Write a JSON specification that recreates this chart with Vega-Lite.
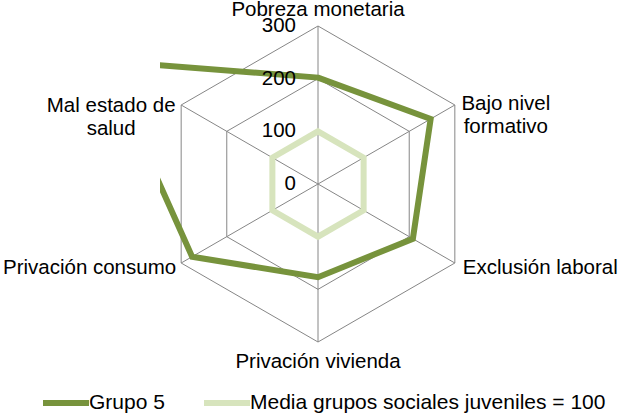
{
  "$schema": "https://vega.github.io/schema/vega-lite/v6.json",
  "width": 316,
  "height": 316,
  "autosize": "none",
  "padding": {"left": 160, "top": 26, "right": 147, "bottom": 72},
  "background": "white",
  "datasets": {
    "series": [
      {"series": "Grupo 5", "category": "Pobreza monetaria", "idx": 0, "value": 202},
      {"series": "Grupo 5", "category": "Bajo nivel formativo", "idx": 1, "value": 247},
      {"series": "Grupo 5", "category": "Exclusión laboral", "idx": 2, "value": 208},
      {"series": "Grupo 5", "category": "Privación vivienda", "idx": 3, "value": 177},
      {"series": "Grupo 5", "category": "Privación consumo", "idx": 4, "value": 276},
      {"series": "Grupo 5", "category": "Mal estado de salud", "idx": 5, "value": 468},
      {"series": "Media grupos sociales juveniles = 100", "category": "Pobreza monetaria", "idx": 0, "value": 100},
      {"series": "Media grupos sociales juveniles = 100", "category": "Bajo nivel formativo", "idx": 1, "value": 100},
      {"series": "Media grupos sociales juveniles = 100", "category": "Exclusión laboral", "idx": 2, "value": 100},
      {"series": "Media grupos sociales juveniles = 100", "category": "Privación vivienda", "idx": 3, "value": 100},
      {"series": "Media grupos sociales juveniles = 100", "category": "Privación consumo", "idx": 4, "value": 100},
      {"series": "Media grupos sociales juveniles = 100", "category": "Mal estado de salud", "idx": 5, "value": 100}
    ],
    "axes": [
      {"idx": 0, "label": "Pobreza monetaria"},
      {"idx": 1, "label": "Bajo nivel\nformativo"},
      {"idx": 2, "label": "Exclusión laboral"},
      {"idx": 3, "label": "Privación vivienda"},
      {"idx": 4, "label": "Privación consumo"},
      {"idx": 5, "label": "Mal estado de\nsalud"}
    ],
    "grid": [
      {"level": 100, "idx": 0}, {"level": 100, "idx": 1}, {"level": 100, "idx": 2},
      {"level": 100, "idx": 3}, {"level": 100, "idx": 4}, {"level": 100, "idx": 5},
      {"level": 200, "idx": 0}, {"level": 200, "idx": 1}, {"level": 200, "idx": 2},
      {"level": 200, "idx": 3}, {"level": 200, "idx": 4}, {"level": 200, "idx": 5},
      {"level": 300, "idx": 0}, {"level": 300, "idx": 1}, {"level": 300, "idx": 2},
      {"level": 300, "idx": 3}, {"level": 300, "idx": 4}, {"level": 300, "idx": 5}
    ],
    "ticks": [{"tick": 0}, {"tick": 100}, {"tick": 200}, {"tick": 300}]
  },
  "config": {
    "view": {"stroke": null},
    "text": {"font": "Liberation Sans", "fontSize": 20.5, "color": "black"},
    "legend": {
      "orient": "none",
      "legendX": -120,
      "legendY": 351,
      "direction": "horizontal",
      "symbolType": "stroke",
      "symbolSize": 2116,
      "symbolStrokeWidth": 6,
      "labelFont": "Liberation Sans",
      "labelFontSize": 21,
      "labelColor": "black",
      "labelLimit": 500,
      "labelOffset": -3,
      "columnPadding": 27
    }
  },
  "layer": [
    {
      "data": {"name": "axes"},
      "transform": [
        {"calculate": "0", "as": "o"},
        {"calculate": "300 * sin(datum.idx * PI / 3)", "as": "sx"},
        {"calculate": "300 * cos(datum.idx * PI / 3)", "as": "sy"}
      ],
      "mark": {"type": "rule", "color": "#868686", "strokeWidth": 1},
      "encoding": {
        "x": {"field": "o", "type": "quantitative", "scale": {"domain": [-300, 300]}, "axis": null},
        "y": {"field": "o", "type": "quantitative", "scale": {"domain": [-300, 300]}, "axis": null},
        "x2": {"field": "sx"},
        "y2": {"field": "sy"}
      }
    },
    {
      "data": {"name": "grid"},
      "transform": [
        {"calculate": "datum.level * sin(datum.idx * PI / 3)", "as": "gx"},
        {"calculate": "datum.level * cos(datum.idx * PI / 3)", "as": "gy"}
      ],
      "mark": {"type": "line", "color": "#868686", "strokeWidth": 1, "interpolate": "linear-closed"},
      "encoding": {
        "x": {"field": "gx", "type": "quantitative", "scale": {"domain": [-300, 300]}, "axis": null},
        "y": {"field": "gy", "type": "quantitative", "scale": {"domain": [-300, 300]}, "axis": null},
        "detail": {"field": "level", "type": "nominal"},
        "order": {"field": "idx", "type": "quantitative"}
      }
    },
    {
      "data": {"name": "series"},
      "transform": [
        {"calculate": "datum.value * sin(datum.idx * PI / 3)", "as": "px"},
        {"calculate": "datum.value * cos(datum.idx * PI / 3)", "as": "py"}
      ],
      "mark": {"type": "line", "strokeWidth": 6, "interpolate": "linear-closed", "clip": true},
      "encoding": {
        "x": {"field": "px", "type": "quantitative", "scale": {"domain": [-300, 300]}, "axis": null},
        "y": {"field": "py", "type": "quantitative", "scale": {"domain": [-300, 300]}, "axis": null},
        "color": {
          "field": "series",
          "type": "nominal",
          "scale": {"domain": ["Grupo 5", "Media grupos sociales juveniles = 100"], "range": ["#77933C", "#D7E4BD"]},
          "legend": {"title": null}
        },
        "order": {"field": "idx", "type": "quantitative"}
      }
    },
    {
      "data": {"name": "ticks"},
      "transform": [{"calculate": "0", "as": "o"}],
      "mark": {"type": "text", "align": "right", "baseline": "middle", "dx": -22},
      "encoding": {
        "x": {"field": "o", "type": "quantitative", "scale": {"domain": [-300, 300]}, "axis": null},
        "y": {"field": "tick", "type": "quantitative", "scale": {"domain": [-300, 300]}, "axis": null},
        "text": {"field": "tick", "type": "quantitative"}
      }
    },
    {
      "data": {"name": "axes"},
      "transform": [
        {"filter": "datum.idx == 0"},
        {"calculate": "300 * sin(datum.idx * PI / 3)", "as": "lx"},
        {"calculate": "300 * cos(datum.idx * PI / 3)", "as": "ly"}
      ],
      "mark": {"type": "text", "align": "center", "baseline": "middle", "dy": -16},
      "encoding": {
        "x": {"field": "lx", "type": "quantitative", "scale": {"domain": [-300, 300]}, "axis": null},
        "y": {"field": "ly", "type": "quantitative", "scale": {"domain": [-300, 300]}, "axis": null},
        "text": {"field": "label", "type": "nominal"}
      }
    },
    {
      "data": {"name": "axes"},
      "transform": [
        {"filter": "datum.idx == 1"},
        {"calculate": "300 * sin(datum.idx * PI / 3)", "as": "lx"},
        {"calculate": "300 * cos(datum.idx * PI / 3)", "as": "ly"}
      ],
      "mark": {"type": "text", "align": "center", "baseline": "middle", "lineBreak": "\n", "lineHeight": 23, "dx": 51, "dy": -1},
      "encoding": {
        "x": {"field": "lx", "type": "quantitative", "scale": {"domain": [-300, 300]}, "axis": null},
        "y": {"field": "ly", "type": "quantitative", "scale": {"domain": [-300, 300]}, "axis": null},
        "text": {"field": "label", "type": "nominal"}
      }
    },
    {
      "data": {"name": "axes"},
      "transform": [
        {"filter": "datum.idx == 2"},
        {"calculate": "300 * sin(datum.idx * PI / 3)", "as": "lx"},
        {"calculate": "300 * cos(datum.idx * PI / 3)", "as": "ly"}
      ],
      "mark": {"type": "text", "align": "left", "baseline": "middle", "dx": 8, "dy": 5},
      "encoding": {
        "x": {"field": "lx", "type": "quantitative", "scale": {"domain": [-300, 300]}, "axis": null},
        "y": {"field": "ly", "type": "quantitative", "scale": {"domain": [-300, 300]}, "axis": null},
        "text": {"field": "label", "type": "nominal"}
      }
    },
    {
      "data": {"name": "axes"},
      "transform": [
        {"filter": "datum.idx == 3"},
        {"calculate": "300 * sin(datum.idx * PI / 3)", "as": "lx"},
        {"calculate": "300 * cos(datum.idx * PI / 3)", "as": "ly"}
      ],
      "mark": {"type": "text", "align": "center", "baseline": "middle", "dy": 20},
      "encoding": {
        "x": {"field": "lx", "type": "quantitative", "scale": {"domain": [-300, 300]}, "axis": null},
        "y": {"field": "ly", "type": "quantitative", "scale": {"domain": [-300, 300]}, "axis": null},
        "text": {"field": "label", "type": "nominal"}
      }
    },
    {
      "data": {"name": "axes"},
      "transform": [
        {"filter": "datum.idx == 4"},
        {"calculate": "300 * sin(datum.idx * PI / 3)", "as": "lx"},
        {"calculate": "300 * cos(datum.idx * PI / 3)", "as": "ly"}
      ],
      "mark": {"type": "text", "align": "right", "baseline": "middle", "dx": -5, "dy": 5},
      "encoding": {
        "x": {"field": "lx", "type": "quantitative", "scale": {"domain": [-300, 300]}, "axis": null},
        "y": {"field": "ly", "type": "quantitative", "scale": {"domain": [-300, 300]}, "axis": null},
        "text": {"field": "label", "type": "nominal"}
      }
    },
    {
      "data": {"name": "axes"},
      "transform": [
        {"filter": "datum.idx == 5"},
        {"calculate": "300 * sin(datum.idx * PI / 3)", "as": "lx"},
        {"calculate": "300 * cos(datum.idx * PI / 3)", "as": "ly"}
      ],
      "mark": {"type": "text", "align": "center", "baseline": "middle", "lineBreak": "\n", "lineHeight": 23, "dx": -70, "dy": 1},
      "encoding": {
        "x": {"field": "lx", "type": "quantitative", "scale": {"domain": [-300, 300]}, "axis": null},
        "y": {"field": "ly", "type": "quantitative", "scale": {"domain": [-300, 300]}, "axis": null},
        "text": {"field": "label", "type": "nominal"}
      }
    }
  ]
}
